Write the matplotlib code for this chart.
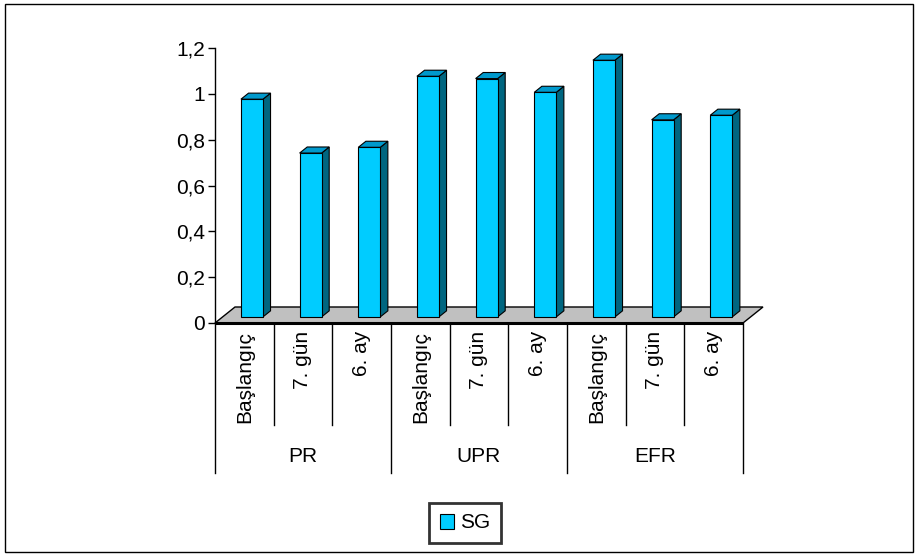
import matplotlib
matplotlib.use("Agg")
import matplotlib.pyplot as plt
from matplotlib.patches import Polygon, Rectangle, Patch

plt.rcParams['font.family'] = ['Liberation Sans', 'DejaVu Sans']

# data
groups = ['PR', 'UPR', 'EFR']
periods = ['Başlangıç', '7. gün', '6. ay']
sg_values = [0.95, 0.715, 0.74,
             1.05, 1.04, 0.98,
             1.12, 0.86, 0.88]
y_ticks = [0, 0.2, 0.4, 0.6, 0.8, 1.0, 1.2]
y_tick_labels = ['0', '0,2', '0,4', '0,6', '0,8', '1', '1,2']

FRONT = '#00CCFF'
SIDE = '#006680'
TOP = '#0099CC'
FLOOR = '#C0C0C0'
FS = 15

W, H = 918, 555
fig = plt.figure(figsize=(W / 100, H / 100), dpi=100)

# plot area in pixels: x 215..743, y(0)=323, y(1.2)=48
ax = fig.add_axes([215 / W, (H - 323) / H, 528 / W, 275 / H])
ax.set_xlim(0, 9)
ax.set_ylim(0, 1.2)
ax.patch.set_visible(False)

# depth of the 3d floor in data units
DX = 20 / (528 / 9)
DY = 16 / (275 / 1.2)
n = len(sg_values)

floor = Polygon([(0, 0), (n, 0), (n + DX, DY), (DX, DY)], closed=True,
                facecolor=FLOOR, edgecolor='black', lw=1, clip_on=False, zorder=1)
ax.add_patch(floor)
ax.plot([0, n], [0, 0], color='black', lw=2.2, clip_on=False, zorder=2,
        solid_capstyle='butt')

# 3d columns
bw = 0.375
f0 = 0.38   # where the column front sits inside the floor depth
d = 0.38    # column depth
for i, v in enumerate(sg_values):
    left = i + 0.5 - bw / 2 + f0 * DX
    right = left + bw
    bottom = f0 * DY
    top = v + f0 * DY
    ox, oy = d * DX, d * DY
    kw = dict(closed=True, edgecolor='black', lw=0.8, clip_on=False, zorder=3,
              joinstyle='miter')
    ax.add_patch(Polygon([(right, bottom), (right + ox, bottom + oy),
                          (right + ox, top + oy), (right, top)], facecolor=SIDE, **kw))
    ax.add_patch(Polygon([(left, top), (right, top), (right + ox, top + oy),
                          (left + ox, top + oy)], facecolor=TOP, **kw))
    ax.add_patch(Polygon([(left, bottom), (right, bottom), (right, top),
                          (left, top)], facecolor=FRONT, **kw))

# value axis
for s in ['top', 'right', 'bottom']:
    ax.spines[s].set_visible(False)
ax.spines['left'].set_linewidth(1)
ax.set_yticks(y_ticks)
ax.set_yticklabels(y_tick_labels, fontsize=FS)
ax.tick_params(axis='y', direction='out', length=5, width=1, pad=2)
ax.set_xticks([])

# category table below the floor
px = 275 / 1.2
inner_end = -(425 - 323) / px
outer_end = -(473 - 323) / px
label_top = -(331 - 323) / px
group_y = -(456 - 323) / px
for k in range(n + 1):
    y1 = outer_end if k % 3 == 0 else inner_end
    ax.plot([k, k], [0, y1], color='black', lw=1, clip_on=False, zorder=2)
for i in range(n):
    ax.text(i + 0.5, label_top, periods[i % 3], rotation=90, ha='center',
            va='top', fontsize=FS)
for g, name in enumerate(groups):
    ax.text(g * 3 + 1.5, group_y, name, ha='center', va='center', fontsize=FS)

# legend
leg = fig.legend(handles=[Patch(facecolor=FRONT, edgecolor='black', lw=0.8, label='SG')],
                 loc='center', bbox_to_anchor=(465 / W, (H - 523) / H),
                 fontsize=FS, frameon=True, fancybox=False, handlelength=0.7,
                 handleheight=0.7, handletextpad=0.3, borderpad=0.5)
leg.get_frame().set_edgecolor('black')
leg.get_frame().set_linewidth(2)

# outer border
fig.add_artist(Rectangle((5 / W, (H - 552) / H), 908 / W, 548 / H,
                         transform=fig.transFigure, fill=False,
                         edgecolor='black', lw=1))

fig.savefig('out.png', dpi=100)
